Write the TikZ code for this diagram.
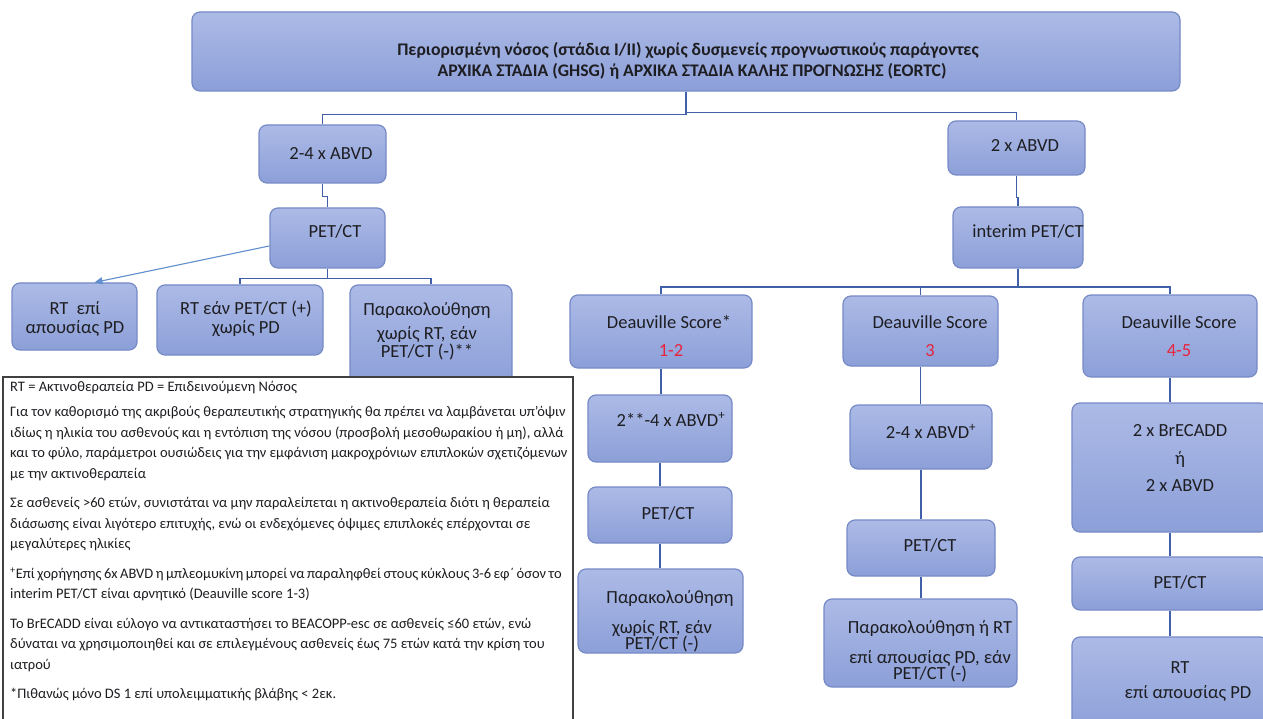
\documentclass[tikz,border=0pt]{standalone}
\usepackage{fontspec}
\setmainfont{Carlito}
\usetikzlibrary{arrows.meta,calc}

\definecolor{boxtop}{RGB}{172,186,230}
\definecolor{boxbot}{RGB}{140,159,216}
\definecolor{boxline}{RGB}{118,138,198}
\definecolor{link}{RGB}{66,96,170}
\definecolor{pointerc}{RGB}{96,142,206}
\definecolor{ink}{RGB}{30,30,34}
\definecolor{score}{RGB}{232,36,62}
\definecolor{frame}{RGB}{64,64,64}

\tikzset{
  box/.style={draw=boxline, line width=1.2pt, rounded corners=8pt,
    top color=boxtop, bottom color=boxbot, inner sep=0pt},
  conn/.style={draw=link, line width=1.8pt},
  pointer/.style={draw=pointerc, line width=1.1pt,
    -{Triangle[length=8pt,width=7pt]}},
  lbl/.style={text=ink, font=\fontsize{18.5}{18}\selectfont, inner sep=0pt, anchor=base},
  red/.style={lbl, text=score},
  head/.style={text=ink, font=\fontsize{17.7}{18}\selectfont\bfseries, inner sep=0pt, anchor=base},
  notebox/.style={draw=frame, fill=white, line width=1.3pt, inner sep=0pt},
  notetext/.style={text=ink, font=\fontsize{14.5}{20.5}\selectfont, inner sep=0pt,
    anchor=north west, align=left},
}

% box from its left, right, top and bottom edges (y grows downwards)
\newcommand{\flowbox}[5]{%
  \node[box, minimum width={#3-#2}, minimum height={#5-#4}] (#1)
    at ({(#2+#3)/2},{(#4+#5)/2}) {};}

\begin{document}
\begin{tikzpicture}[x=1pt,y=-1pt]
\useasboundingbox[fill=white] (0,0) rectangle (1263,719);
\clip (0,0) rectangle (1263,719);

% ---------- boxes ----------
\flowbox{T}{192}{1180}{12}{91}
\flowbox{A1}{259}{386}{125}{183}
\flowbox{A2}{270}{385}{208}{268}
\flowbox{L1}{12}{137}{283}{350}
\flowbox{L2}{157}{323}{285}{355}
\flowbox{L3}{350}{512}{285}{385}

\flowbox{R1}{948}{1085}{121}{175}
\flowbox{R2}{953}{1083}{207}{268}
\flowbox{D1}{570}{752}{295}{368}
\flowbox{D2}{843}{998}{296}{366}
\flowbox{D3}{1083}{1257}{295}{377}
\flowbox{E1}{588}{732}{395}{462}
\flowbox{F1}{588}{732}{487}{543}
\flowbox{G1}{578}{743}{569}{653}
\flowbox{E2}{850}{992}{405}{469}
\flowbox{F2}{847}{995}{520}{576}
\flowbox{G2}{824}{1017}{599}{687}
\flowbox{E3}{1072}{1268}{403}{532}
\flowbox{F3}{1072}{1268}{557}{610}
\flowbox{G3}{1072}{1268}{637}{732}

% ---------- connectors ----------
\draw[conn] (T.south) -- ++(0,23) -| (A1.north);
\draw[conn] (T.south) -- ++(0,21) -| (R1.north);
\draw[conn] (A1.south) -- ++(0,13) -| (A2.north);
\draw[conn] (A2.south) -- ++(0,10) -| (L2.north);
\draw[conn] (A2.south) -- ++(0,10) -| (L3.north);
\draw[pointer] ($(A2.south west)!0.37!(A2.north west)$) -- ([xshift=20pt]L1.north);

\draw[conn] (R1.south) -- ++(0,22) -| (R2.north);
\draw[conn] (R2.south) -- ++(0,18) -| (D1.north);
\draw[conn] (R2.south) -- ++(0,18) -| (D2.north);
\draw[conn] (R2.south) -- ++(0,18) -| (D3.north);
\draw[conn] (D1.south) -- (D1.south |- E1.north);
\draw[conn] (E1.south) -- (E1.south |- F1.north);
\draw[conn] (F1.south) -- (F1.south |- G1.north);
\draw[conn] (D2.south) -- (D2.south |- E2.north);
\draw[conn] (E2.south) -- (E2.south |- F2.north);
\draw[conn] (F2.south) -- (F2.south |- G2.north);
\draw[conn] (D3.south) -- (D3.south |- E3.north);
\draw[conn] (E3.south) -- (E3.south |- F3.north);
\draw[conn] (F3.south) -- (F3.south |- G3.north);

% ---------- box texts ----------
\node[head] (Tt1) at (688,56) {Περιορισμένη νόσος (στάδια I/II) χωρίς δυσμενείς προγνωστικούς παράγοντες};
\node[head] (Tt2) at (692,77) {ΑΡΧΙΚΑ ΣΤΑΔΙΑ (GHSG) ή ΑΡΧΙΚΑ ΣΤΑΔΙΑ ΚΑΛΗΣ ΠΡΟΓΝΩΣΗΣ (EORTC)};

\node[lbl] (A1t) at (331,160) {2-4 x ABVD};
\node[lbl] (A2t) at (335,238) {PET/CT};
\node[lbl] (L1a) at (75,314) {RT\hspace{0.45em}επί};
\node[lbl] (L1b) at (75,333) {απουσίας PD};
\node[lbl] (L2a) at (246,314) {RT εάν PET/CT (+)};
\node[lbl] (L2b) at (246,333) {χωρίς PD};
\node[lbl] (L3a) at (427,316) {Παρακολούθηση};
\node[lbl] (L3b) at (427,339) {χωρίς RT, εάν};
\node[lbl] (L3c) at (427,357) {PET/CT (-)**};

\node[lbl] (R1t) at (1025,152) {2 x ABVD};
\node[lbl] (R2t) at (1028,238) {interim PET/CT};

\node[lbl] (D1a) at (669,328) {Deauville Score*};
\node[red] (D1b) at (671,356) {1-2};
\node[lbl] (D2a) at (930,328) {Deauville Score};
\node[red] (D2b) at (930,356) {3};
\node[lbl] (D3a) at (1179,328) {Deauville Score};
\node[red] (D3b) at (1179,356) {4-5};

\node[lbl] (E1t) at (671,426) {2**-4 x ABVD\textsuperscript{+}};
\node[lbl] (F1t) at (668,519) {PET/CT};
\node[lbl] (G1a) at (670,603) {Παρακολούθηση};
\node[lbl] (G1b) at (662,633) {χωρίς RT, εάν};
\node[lbl] (G1c) at (662,649) {PET/CT (-)};

\node[lbl] (E2t) at (931,438) {2-4 x ABVD\textsuperscript{+}};
\node[lbl] (F2t) at (930,551) {PET/CT};
\node[lbl] (G2a) at (930,633) {Παρακολούθηση ή RT};
\node[lbl] (G2b) at (930,663) {επί απουσίας PD, εάν};
\node[lbl] (G2c) at (930,679) {PET/CT (-)};

\node[lbl] (E3a) at (1180,436) {2 x BrECADD};
\node[lbl] (E3b) at (1180,464) {ή};
\node[lbl] (E3c) at (1180,491) {2 x ABVD};
\node[lbl] (F3t) at (1180,588) {PET/CT};
\node[lbl] (G3a) at (1180,673) {RT};
\node[lbl] (G3b) at (1188,698) {επί απουσίας PD};

% ---------- notes ----------
\node[notebox, minimum width=570, minimum height=360] (N) at (288,557) {};
\node[notetext] (Nt) at (10,381) {%
RT = Ακτινοθεραπεία PD = Επιδεινούμενη Νόσος\\[5pt]
Για τον καθορισμό της ακριβούς θεραπευτικής στρατηγικής θα πρέπει να λαμβάνεται υπ’όψιν\\
ιδίως η ηλικία του ασθενούς και η εντόπιση της νόσου (προσβολή μεσοθωρακίου ή μη), αλλά\\
και το φύλο, παράμετροι ουσιώδεις για την εμφάνιση μακροχρόνιων επιπλοκών σχετιζόμενων\\
με την ακτινοθεραπεία\\[9pt]
Σε ασθενείς >60 ετών, συνιστάται να μην παραλείπεται η ακτινοθεραπεία διότι η θεραπεία\\
διάσωσης είναι λιγότερο επιτυχής, ενώ οι ενδεχόμενες όψιμες επιπλοκές επέρχονται σε\\
μεγαλύτερες ηλικίες\\[9pt]
{\spaceskip=0.17em\relax\textsuperscript{+}Επί χορήγησης 6x ABVD η μπλεομυκίνη μπορεί να παραληφθεί στους κύκλους 3-6 εφ΄ όσον το}\\
interim PET/CT είναι αρνητικό (Deauville score 1-3)\\[9pt]
Το BrECADD είναι εύλογο να αντικαταστήσει το BEACOPP-esc σε ασθενείς ≤60 ετών, ενώ\\
δύναται να χρησιμοποιηθεί και σε επιλεγμένους ασθενείς έως 75 ετών κατά την κρίση του\\
ιατρού\\[9pt]
*Πιθανώς μόνο DS 1 επί υπολειμματικής βλάβης < 2εκ.};
\end{tikzpicture}
\end{document}
